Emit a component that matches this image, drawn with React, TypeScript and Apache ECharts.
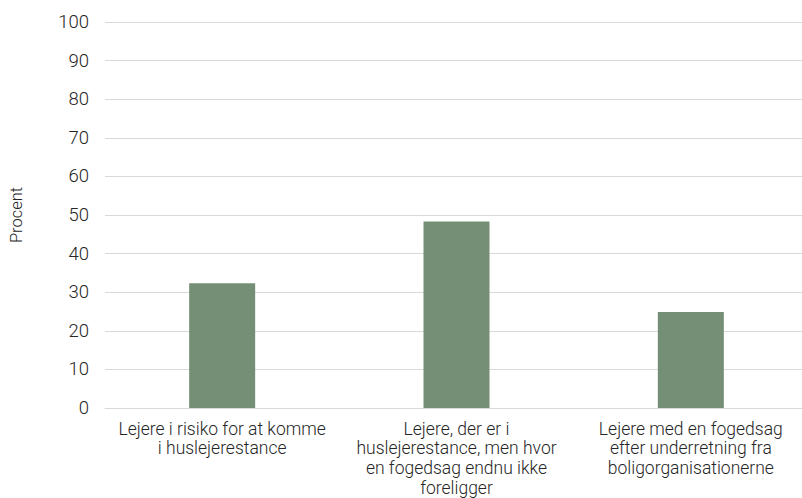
import React, { useEffect, useRef } from "react";
import * as echarts from "echarts";

const categories = [
  "Lejere i risiko for at komme\ni huslejerestance",
  "Lejere, der er i\nhuslejerestance, men hvor\nen fogedsag endnu ikke\nforeligger",
  "Lejere med en fogedsag\nefter underretning fra\nboligorganisationerne",
];
const values = [32.3, 48.3, 24.9];
const yAxisName = "Procent";

export default function App() {
  const ref = useRef<HTMLDivElement>(null);
  useEffect(() => {
    if (!ref.current) return;
    const chart = echarts.init(ref.current, null, { renderer: "svg" });
    chart.setOption({
      animation: false,
      grid: { left: 105, top: 22, right: 0, height: 386, containLabel: false },
      xAxis: {
        type: "category",
        data: categories,
        axisLine: { show: true, lineStyle: { color: "#d9d9d9", width: 1 } },
        axisTick: { show: false },
        axisLabel: {
          interval: 0,
          color: "#262626",
          fontFamily: "Roboto",
          fontWeight: 300,
          fontSize: 17.5,
          lineHeight: 19.6,
          margin: 11,
        },
      },
      yAxis: {
        type: "value",
        min: 0,
        max: 100,
        interval: 10,
        name: yAxisName,
        nameLocation: "middle",
        nameGap: 80,
        nameRotate: 90,
        nameTextStyle: { color: "#262626", fontFamily: "Roboto", fontWeight: 300, fontSize: 16.5 },
        axisLine: { show: false },
        axisTick: { show: false },
        splitLine: { lineStyle: { color: "#d9d9d9", width: 1 } },
        axisLabel: { color: "#262626", fontFamily: "Roboto", fontWeight: 300, fontSize: 18.5, margin: 16 },
      },
      series: [
        {
          type: "bar",
          data: values,
          barWidth: 66,
          itemStyle: { color: "#748f76" },
        },
      ],
    });
    return () => chart.dispose();
  }, []);
  return (
    <div style={{ width: 802, height: 498, position: "absolute", left: 0, top: 0, overflow: "hidden" }}>
      <div ref={ref} style={{ width: 808, height: 498 }} />
    </div>
  );
}
